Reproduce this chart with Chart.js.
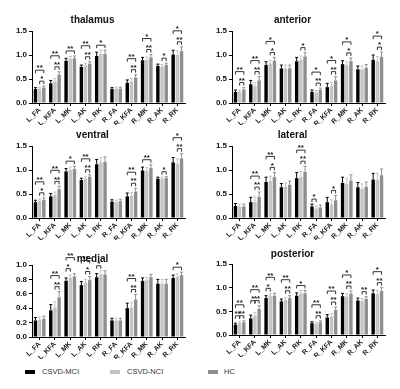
<!DOCTYPE html>
<html>
<head>
<meta charset="utf-8">
<script src="https://cdn.jsdelivr.net/npm/chart.js@4.4.1/dist/chart.umd.min.js"></script>
<style>
  body { margin: 0; background: #fff; width: 400px; height: 389px; position: relative; overflow: hidden; font-family: "Liberation Sans", Arial, sans-serif; }
  canvas { position: absolute; }
  .leg { position: absolute; top: 367px; font-size: 7.5px; color: #333; line-height: 10px; }
  .leg i { position: absolute; left: 0; top: 3px; width: 10px; height: 4px; }
  .leg span { position: absolute; white-space: nowrap; }
</style>
</head>
<body>
<canvas id="thalamus" width="200" height="125" style="left:0;top:0"></canvas>
<canvas id="anterior" width="200" height="125" style="left:200px;top:0"></canvas>
<canvas id="ventral" width="200" height="125" style="left:0;top:115px"></canvas>
<canvas id="lateral" width="200" height="125" style="left:200px;top:115px"></canvas>
<canvas id="medial" width="200" height="119" style="left:0;top:240px"></canvas>
<canvas id="posterior" width="200" height="122" style="left:200px;top:235px"></canvas>
<div id="legend"></div>
<script>
const categories = ['L_FA', 'L_KFA', 'L_MK', 'L_AK', 'L_RK', 'R_FA', 'R_KFA', 'R_MK', 'R_AK', 'R_RK'];
const groups = ['CSVD-MCI', 'CSVD-NCI', 'HC'];
const colors = ['#000000', '#c4c4c4', '#8e8e8e'];

// thalamus
const thalamusMCI = [0.29, 0.41, 0.88, 0.75, 0.98, 0.29, 0.42, 0.89, 0.77, 1.01];
const thalamusNCI = [0.30, 0.45, 0.92, 0.78, 1.02, 0.30, 0.45, 0.90, 0.76, 1.00];
const thalamusHC  = [0.32, 0.59, 0.93, 0.82, 1.02, 0.30, 0.53, 0.95, 0.79, 1.08];
const thalamusErr = [0.03, 0.06, 0.05, 0.04, 0.08, 0.03, 0.06, 0.06, 0.04, 0.09];
const thalamusSig = [[0,0,2,'**'],[0,1,2,'*'],[1,0,2,'**'],[1,1,2,'**'],[2,0,2,'**'],[3,0,2,'**'],[3,1,2,'**'],[4,0,2,'*'],
  [6,0,2,'**'],[6,1,2,'**'],[7,0,2,'*'],[7,1,2,'**'],[8,1,2,'*'],[9,0,2,'*'],[9,1,2,'**']];

// anterior
const anteriorMCI = [0.23, 0.39, 0.79, 0.72, 0.87, 0.23, 0.33, 0.81, 0.70, 0.90];
const anteriorNCI = [0.23, 0.35, 0.82, 0.72, 0.90, 0.22, 0.35, 0.79, 0.70, 0.87];
const anteriorHC  = [0.28, 0.47, 0.88, 0.72, 0.97, 0.27, 0.47, 0.87, 0.73, 0.96];
const anteriorErr = [0.04, 0.08, 0.07, 0.07, 0.08, 0.04, 0.08, 0.07, 0.07, 0.10];
const anteriorSig = [[0,0,2,'**'],[0,1,2,'**'],[1,0,2,'**'],[1,1,2,'**'],[2,0,2,'*'],[2,1,2,'*'],[4,1,2,'*'],
  [5,0,2,'*'],[5,1,2,'**'],[6,0,2,'*'],[6,1,2,'**'],[7,0,2,'*'],[7,1,2,'*'],[9,0,2,'*'],[9,1,2,'*']];

// ventral
const ventralMCI = [0.33, 0.45, 0.97, 0.79, 1.12, 0.34, 0.45, 0.99, 0.82, 1.16];
const ventralNCI = [0.36, 0.48, 1.00, 0.82, 1.16, 0.33, 0.46, 0.98, 0.82, 1.13];
const ventralHC  = [0.38, 0.60, 1.02, 0.86, 1.17, 0.35, 0.55, 1.04, 0.83, 1.24];
const ventralErr = [0.04, 0.06, 0.06, 0.04, 0.10, 0.04, 0.07, 0.07, 0.03, 0.10];
const ventralSig = [[0,0,2,'**'],[0,1,2,'*'],[1,0,2,'**'],[1,1,2,'**'],[2,0,2,'*'],[3,0,2,'**'],[3,1,2,'**'],
  [6,0,2,'**'],[6,1,2,'**'],[7,0,2,'**'],[8,1,2,'*'],[9,0,2,'*'],[9,1,2,'**']];

// lateral
const lateralMCI = [0.25, 0.33, 0.75, 0.64, 0.83, 0.24, 0.33, 0.73, 0.64, 0.80];
const lateralNCI = [0.24, 0.34, 0.77, 0.65, 0.85, 0.20, 0.28, 0.71, 0.61, 0.80];
const lateralHC  = [0.24, 0.44, 0.85, 0.69, 0.96, 0.22, 0.37, 0.78, 0.65, 0.89];
const lateralErr = [0.05, 0.10, 0.10, 0.08, 0.12, 0.05, 0.10, 0.12, 0.10, 0.13];
const lateralSig = [[1,0,2,'**'],[1,1,2,'**'],[2,0,2,'**'],[2,1,2,'*'],[4,0,2,'**'],[4,1,2,'**'],[5,0,1,'*'],[6,1,2,'*']];

// medial
const medialMCI = [0.23, 0.37, 0.78, 0.72, 0.83, 0.23, 0.40, 0.78, 0.74, 0.82];
const medialNCI = [0.24, 0.41, 0.82, 0.75, 0.87, 0.23, 0.41, 0.79, 0.74, 0.84];
const medialHC  = [0.25, 0.55, 0.84, 0.79, 0.87, 0.23, 0.52, 0.83, 0.74, 0.86];
const medialErr = [0.04, 0.08, 0.04, 0.05, 0.05, 0.03, 0.07, 0.04, 0.06, 0.04];
const medialSig = [[1,0,2,'**'],[1,1,2,'**'],[2,0,2,'**'],[2,0,1,'*'],[3,0,2,'**'],[3,1,2,'*'],[4,0,1,'*'],
  [6,0,2,'**'],[6,1,2,'**'],[9,0,2,'*']];

// posterior
const posteriorMCI = [0.22, 0.35, 0.78, 0.71, 0.83, 0.25, 0.37, 0.82, 0.73, 0.88];
const posteriorNCI = [0.26, 0.41, 0.82, 0.74, 0.88, 0.24, 0.39, 0.81, 0.72, 0.87];
const posteriorHC  = [0.27, 0.55, 0.83, 0.78, 0.88, 0.27, 0.53, 0.87, 0.76, 0.93];
const posteriorErr = [0.03, 0.07, 0.05, 0.05, 0.06, 0.03, 0.06, 0.06, 0.05, 0.07];
const posteriorSig = [[0,0,2,'**'],[0,0,1,'**'],[0,1,2,'**'],[1,0,2,'**'],[1,0,1,'*'],[1,1,2,'**'],[2,0,2,'**'],[2,0,1,'*'],
  [3,0,2,'**'],[3,1,2,'**'],[4,0,2,'*'],[5,0,2,'**'],[5,1,2,'**'],[6,0,2,'**'],[6,1,2,'**'],
  [7,0,2,'*'],[7,1,2,'**'],[8,1,2,'**'],[9,0,2,'*'],[9,1,2,'**']];

const FONT = '"Liberation Sans", Arial, sans-serif';

// error bars (up only) and significance brackets
function marks(err, sig) {
  return {
    id: 'marks',
    afterDatasetsDraw(chart) {
      const ctx = chart.ctx, ys = chart.scales.y;
      ctx.save();
      ctx.lineWidth = 1;
      const groupTop = categories.map(() => Infinity);
      chart.data.datasets.forEach((ds, d) => {
        chart.getDatasetMeta(d).data.forEach((bar, i) => {
          const t = ys.getPixelForValue(ds.data[i] + err[i]);
          groupTop[i] = Math.min(groupTop[i], t);
          ctx.strokeStyle = ds.backgroundColor;
          ctx.beginPath();
          ctx.moveTo(bar.x, bar.y);
          ctx.lineTo(bar.x, t);
          ctx.moveTo(bar.x - 1.5, t);
          ctx.lineTo(bar.x + 1.5, t);
          ctx.stroke();
        });
      });
      ctx.strokeStyle = '#333';
      ctx.fillStyle = '#222';
      ctx.font = 'bold 8px ' + FONT;
      ctx.textAlign = 'center';
      ctx.textBaseline = 'bottom';
      sig.forEach(([c, a, b, lab]) => {
        const hasInner = sig.some(s => s[0] === c && s[2] - s[1] === 1);
        let y = groupTop[c] - 5;
        if (b - a === 2 && hasInner) y -= 11;
        const x1 = chart.getDatasetMeta(a).data[c].x;
        const x2 = chart.getDatasetMeta(b).data[c].x;
        ctx.beginPath();
        ctx.moveTo(x1, y + 3); ctx.lineTo(x1, y); ctx.lineTo(x2, y); ctx.lineTo(x2, y + 3);
        ctx.stroke();
        ctx.fillText(lab, (x1 + x2) / 2, y + 2);
      });
      ctx.restore();
    }
  };
}

function panel(id, title, mci, nci, hc, err, sig, max, step, padTop, padBottom) {
  const series = [mci, nci, hc];
  new Chart(document.getElementById(id), {
    type: 'bar',
    data: {
      labels: categories,
      datasets: series.map((s, i) => ({
        label: groups[i],
        data: s,
        backgroundColor: colors[i],
        categoryPercentage: 0.82,
        barPercentage: 0.82
      }))
    },
    options: {
      responsive: false,
      animation: false,
      devicePixelRatio: 1,
      layout: { padding: { left: 0, right: 15, top: 0, bottom: 0 } },
      plugins: {
        legend: { display: false },
        tooltip: { enabled: false },
        title: {
          display: true, text: title, color: '#111',
          font: { family: FONT, size: 10, weight: 'bold' },
          padding: { top: padTop, bottom: padBottom }
        }
      },
      scales: {
        x: {
          grid: { display: true, drawOnChartArea: false, offset: false, tickLength: 3, color: '#000' },
          border: { display: true, color: '#000', width: 1 },
          ticks: { autoSkip: false, minRotation: 45, maxRotation: 45, padding: 0, color: '#222',
            font: { family: FONT, size: 7, weight: 'bold' } },
          afterFit(s) { s.height = 22; }
        },
        y: {
          min: 0, max: max,
          grid: { display: true, drawOnChartArea: false, tickLength: 3, color: '#000' },
          border: { display: true, color: '#000', width: 1 },
          ticks: { stepSize: step, padding: 2, color: '#111',
            font: { family: FONT, size: 8, weight: 'bold' },
            callback: v => v.toFixed(1) },
          afterFit(s) { s.width = 32; }
        }
      }
    },
    plugins: [marks(err, sig)]
  });
}

panel('thalamus', 'thalamus', thalamusMCI, thalamusNCI, thalamusHC, thalamusErr, thalamusSig, 1.5, 0.5, 14, 5);
panel('anterior', 'anterior', anteriorMCI, anteriorNCI, anteriorHC, anteriorErr, anteriorSig, 1.5, 0.5, 14, 5);
panel('ventral', 'ventral', ventralMCI, ventralNCI, ventralHC, ventralErr, ventralSig, 1.5, 0.5, 14, 5);
panel('lateral', 'lateral', lateralMCI, lateralNCI, lateralHC, lateralErr, lateralSig, 1.5, 0.5, 14, 5);
panel('medial', 'medial', medialMCI, medialNCI, medialHC, medialErr, medialSig, 1.0, 0.2, 13, 0);
panel('posterior', 'posterior', posteriorMCI, posteriorNCI, posteriorHC, posteriorErr, posteriorSig, 1.5, 0.5, 13, 4);

// legend
const legX = [25, 110, 208];
document.getElementById('legend').innerHTML = groups.map((g, i) =>
  `<div class="leg" style="left:${legX[i]}px"><i style="background:${colors[i]}"></i><span style="left:${i === 2 ? 16 : 17}px">${g}</span></div>`
).join('');
</script>
</body>
</html>
